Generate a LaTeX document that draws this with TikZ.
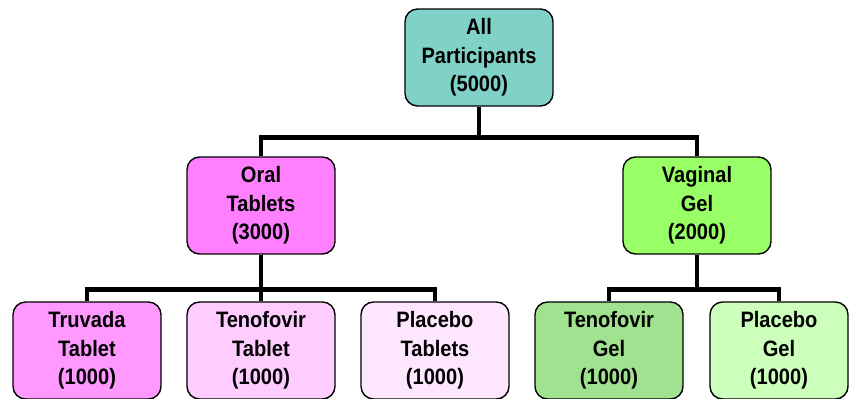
\documentclass[tikz,border=0pt]{standalone}
\usepackage{fontspec}
\setmainfont[FakeStretch=0.9]{Liberation Sans}
\usepackage{tikz}
\usepackage[dvipsnames]{xcolor}

\definecolor{allc}{HTML}{80D2C8}
\definecolor{oralc}{HTML}{FF80FF}
\definecolor{vagc}{HTML}{99FF66}
\definecolor{truvc}{HTML}{FF99FF}
\definecolor{tentc}{HTML}{FFCCFF}
\definecolor{plactc}{HTML}{FFE6FF}
\definecolor{tengc}{HTML}{A0E28F}
\definecolor{placgc}{HTML}{CCFFBB}

\begin{document}
\begin{tikzpicture}
[x=0.02cm,y=-0.02cm,every node/.style={draw,line width=0.8pt,rounded corners=0.25cm,
  minimum width=2.96cm,minimum height=1.94cm,align=center,
  font=\fontsize{12.7}{16.2}\selectfont\bfseries}]

  \useasboundingbox (0,0) rectangle (849,399);

  \node (all) at (479,57.5) [fill=allc] {All\\Participants\\(5000)};

  \node (oral) at (261,205.5) [fill=oralc] {Oral\\Tablets\\(3000)};
  \node (vag) at (697,205.5) [fill=vagc] {Vaginal\\Gel\\(2000)};

  \node (truv) at (87,350.5) [fill=truvc] {Truvada\\Tablet\\(1000)};
  \node (tent) at (261,350.5) [fill=tentc] {Tenofovir\\Tablet\\(1000)};
  \node (plact) at (435,350.5) [fill=plactc] {Placebo\\Tablets\\(1000)};
  \node (teng) at (609,350.5) [fill=tengc] {Tenofovir\\Gel\\(1000)};
  \node (placg) at (779,350.5) [fill=placgc,minimum width=2.76cm] {Placebo\\Gel\\(1000)};

  \foreach \from/\to/\drop in {all/oral/31,all/vag/31,oral/truv/35,oral/tent/35,oral/plact/35,vag/teng/35,vag/placg/35}
    \draw[line width=2.8pt,line join=miter] (\from.south) -- ++(0,\drop) -| (\to.north);
\end{tikzpicture}
\end{document}
